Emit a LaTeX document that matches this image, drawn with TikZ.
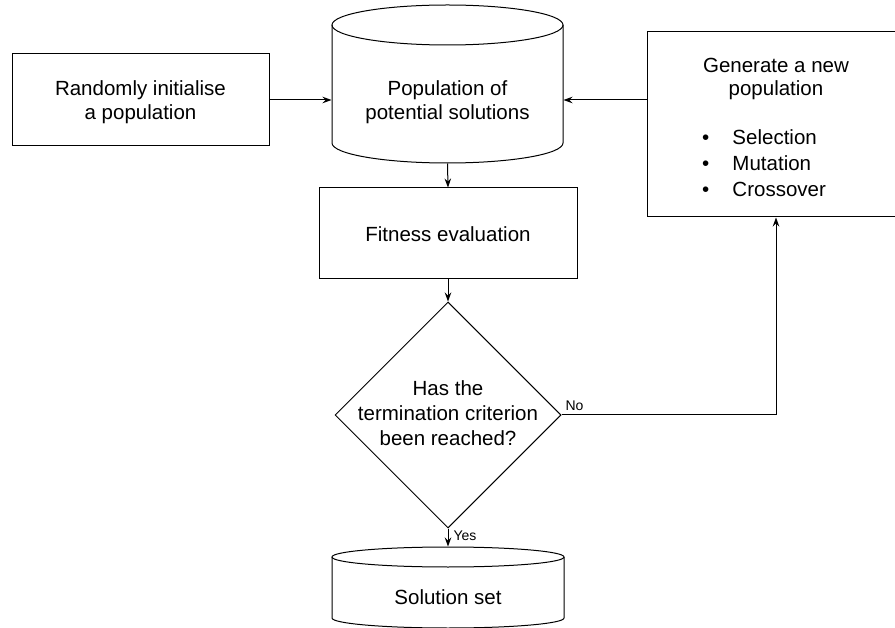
\documentclass[tikz,border=0pt]{standalone}
\usepackage{fontspec}
\setmainfont{Liberation Sans}
\usetikzlibrary{shapes.geometric,arrows.meta}

\begin{document}
\begin{tikzpicture}[x=1pt,y=-1pt,line width=1pt,
  frame/.style={draw,rectangle,inner sep=0pt},
  slot/.style={rectangle,inner sep=0pt},
  txt/.style={font=\fontsize{20.5}{24.5}\selectfont,align=center,inner sep=0pt},
  tag/.style={font=\fontsize{14}{16}\selectfont,inner sep=0pt},
  arr/.style={-{Stealth[length=9pt,width=6.5pt,inset=3pt]}}]

\useasboundingbox[fill=white] (0,0) rectangle (895,628);

% boxes
\node[frame,minimum width=257pt,minimum height=92pt] (init) at (140.5,100) {};
\node[txt] at (140.5,102) {Randomly initialise\\a population};

\node[frame,minimum width=258pt,minimum height=91pt] (fit) at (448,233.5) {};
\node[txt] at (448,234) {Fitness evaluation};

\node[frame,minimum width=258pt,minimum height=185pt] (gen) at (776,124.5) {};
\node[txt,font=\fontsize{20.5}{23}\selectfont] at (776,79) {Generate a new\\population};
\node[txt,align=left,anchor=west,font=\fontsize{20.5}{26}\selectfont] at (701.5,163)
  {\makebox[30.5pt][l]{\textbullet}Selection\\
   \makebox[30.5pt][l]{\textbullet}Mutation\\
   \makebox[30.5pt][l]{\textbullet}Crossover};

% population store (cylinder)
\node[slot,minimum width=231pt,minimum height=158pt] (pop) at (447.5,84) {};
\draw (332,25) -- (332,143) arc[start angle=180,end angle=360,x radius=115.5pt,y radius=20pt] -- (563,25);
\draw (447.5,25) ellipse[x radius=115.5pt,y radius=20pt];
\node[txt,font=\fontsize{20.5}{23.5}\selectfont] at (447.5,102) {Population of\\potential solutions};

% decision
\node[draw,diamond,aspect=1,inner sep=0pt,minimum width=226pt,minimum height=226pt] (dec) at (448,415) {};
\node[txt,font=\fontsize{20.5}{24.75}\selectfont] at (448,413) {Has the\\termination criterion\\been reached?};

% solution store (cylinder)
\node[slot,minimum width=232pt,minimum height=81pt] (sol) at (448,587.5) {};
\draw (332,557) -- (332,618) arc[start angle=180,end angle=360,x radius=116pt,y radius=10pt] -- (564,557);
\draw (448,557) ellipse[x radius=116pt,y radius=10pt];
\node[txt] at (448,597) {Solution set};

% connectors
\draw[arr] (init.east) -- (pop.west |- init.east);
\draw[arr] (gen.west |- init.east) -- (pop.east |- init.east);
\draw[arr] (pop.south) -- (fit.north);
\draw[arr] (fit.south) -- (dec.north);
\draw[arr] (dec.east) -- (gen.south |- dec.east) -- (gen.south);
\draw[arr] (dec.south) -- (sol.north);

\node[tag,anchor=base west] at (565,411) {No};
\node[tag,anchor=base west] at (453,540) {Yes};
\end{tikzpicture}
\end{document}
